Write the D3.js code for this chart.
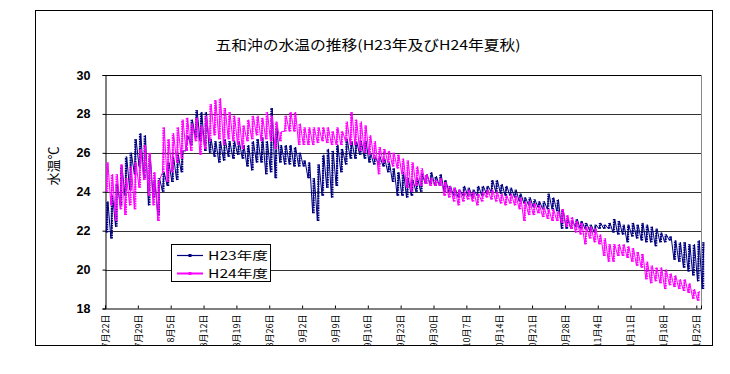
<!DOCTYPE html>
<html>
<head>
<meta charset="utf-8">
<script src="https://cdn.jsdelivr.net/npm/d3@7"></script>
<style>
  html, body { margin: 0; padding: 0; background: #fff; }
  svg { display: block; }
</style>
</head>
<body>
<svg id="chart" width="730" height="374"></svg>
<script>
// Season start (day 0 = 7月22日); one entry per day
const startDate = "2012-07-22";

// H23 daily low / high water temperature (°C)
const h23Low = [
  21.9, 21.6, 22.2, 23.3, 23.8, 24.1, 24.9, 25.3, 24.7, 23.3,
  23.7, 22.8, 24.0, 24.3, 24.5, 24.6, 25.0, 26.1, 26.4, 26.8,
  26.6, 26.1, 26.0, 25.8, 25.5, 25.6, 25.8, 25.7, 25.9, 25.7,
  25.3, 25.1, 25.5, 25.5, 24.9, 25.0, 24.7, 25.5, 25.4, 25.4,
  25.3, 25.3, 25.3, 24.7, 22.9, 22.5, 23.8, 24.2, 23.7, 24.3,
  25.0, 25.4, 25.7, 25.7, 25.9, 25.7, 25.5, 25.4, 25.4, 25.3,
  25.0, 24.5, 23.8, 23.8, 23.7, 23.8, 24.0, 24.0, 24.4, 24.4,
  24.3, 24.3, 24.0, 24.0, 23.8, 23.7, 23.8, 23.8, 23.7, 23.8,
  23.8, 23.9, 24.0, 24.0, 23.9, 23.8, 23.8, 23.7, 23.5, 23.4,
  23.3, 23.2, 23.2, 23.1, 23.1, 23.1, 23.0, 22.1, 22.1, 22.1,
  22.2, 22.1, 22.1, 22.0, 21.9, 22.1, 22.1, 22.1, 21.9, 21.8,
  21.8, 21.4, 21.7, 21.6, 21.5, 21.4, 21.4, 21.2, 21.4, 21.4,
  21.5, 20.5, 20.4, 20.1, 19.9, 19.7, 19.4, 19.0
];
const h23High = [
  23.5, 23.8, 24.4, 25.3, 25.8, 26.0, 26.7, 27.0, 26.9, 25.9,
  24.6, 24.7, 25.0, 25.5, 25.8, 25.9, 26.1, 26.9, 27.7, 28.2,
  28.1, 28.1, 26.7, 26.6, 26.6, 26.7, 26.6, 26.6, 26.6, 26.4,
  26.4, 26.6, 26.7, 26.8, 26.6, 28.3, 27.3, 26.4, 26.4, 26.4,
  26.3, 26.0, 25.6, 25.5, 24.7, 25.4, 25.9, 26.2, 26.1, 26.4,
  26.2, 26.7, 26.6, 26.6, 26.6, 26.6, 26.0, 25.8, 25.8, 25.7,
  25.5, 25.2, 25.0, 25.0, 24.7, 24.6, 24.7, 24.9, 24.9, 25.0,
  24.8, 24.9, 24.6, 24.3, 24.2, 24.1, 24.3, 24.2, 24.1, 24.3,
  24.3, 24.3, 24.6, 24.6, 24.4, 24.3, 24.2, 24.1, 23.9, 23.7,
  23.7, 23.6, 23.5, 23.5, 23.9, 23.7, 23.6, 23.1, 22.6, 22.5,
  22.6, 22.5, 22.4, 22.3, 22.3, 22.4, 22.3, 22.4, 22.6, 22.5,
  22.3, 22.3, 22.4, 22.3, 22.4, 22.3, 22.2, 22.1, 21.9, 21.8,
  21.7, 21.5, 21.4, 21.4, 21.3, 21.3, 21.5, 21.4
];

// H24 daily low / high water temperature (°C)
const h24Low = [
  24.0, 23.3, 22.5, 23.1, 22.8, 23.3, 23.1, 24.2, 24.6, 23.8,
  23.3, 22.5, 25.0, 24.5, 25.0, 25.5, 25.7, 26.1, 26.1, 26.6,
  25.9, 26.2, 26.6, 26.9, 26.7, 26.4, 26.7, 26.6, 26.4, 26.2,
  26.6, 26.7, 26.9, 26.6, 26.7, 26.6, 26.2, 26.6, 27.1, 27.1,
  27.1, 26.4, 26.4, 26.4, 26.4, 26.5, 26.6, 26.5, 26.4, 26.4,
  26.4, 26.6, 26.4, 26.4, 26.1, 26.0, 25.9, 25.7, 24.9, 25.5,
  25.5, 25.3, 25.2, 24.9, 24.2, 24.0, 24.3, 24.3, 24.4, 24.3,
  24.3, 24.3, 23.8, 23.7, 23.5, 23.3, 23.5, 23.6, 23.5, 23.3,
  23.5, 23.7, 23.6, 23.5, 23.4, 23.3, 23.4, 23.3, 23.1, 22.5,
  22.8, 22.8, 22.9, 22.7, 22.6, 22.5, 22.5, 22.4, 22.2, 22.1,
  21.9, 21.8, 21.3, 21.6, 21.4, 21.3, 20.7, 20.4, 20.4, 20.7,
  20.7, 20.6, 20.4, 20.2, 20.1, 19.5, 19.3, 19.4, 19.3, 19.0,
  19.2, 19.1, 19.0, 18.9, 18.8, 18.5, 18.4
];
const h24High = [
  25.5, 24.9, 24.9, 25.4, 24.7, 25.3, 25.5, 26.2, 26.4, 26.0,
  25.0, 24.6, 27.3, 26.7, 27.0, 27.3, 27.7, 27.8, 27.5, 27.8,
  27.4, 27.9, 28.5, 28.7, 28.8, 28.3, 28.1, 27.9, 27.8, 27.4,
  27.7, 27.9, 27.9, 27.8, 28.1, 27.9, 27.6, 27.1, 27.9, 28.1,
  28.1, 27.5, 27.3, 27.3, 27.3, 27.3, 27.3, 27.3, 27.1, 27.3,
  27.1, 27.6, 28.1, 27.7, 27.6, 27.4, 26.9, 26.6, 26.3, 26.2,
  26.1, 26.0, 25.9, 25.7, 25.6, 25.5, 25.3, 25.2, 24.9, 24.7,
  24.6, 24.7, 24.5, 24.3, 24.2, 24.1, 24.0, 24.1, 24.0, 23.9,
  24.0, 24.1, 24.1, 24.0, 23.9, 23.8, 23.9, 23.8, 23.7, 23.5,
  23.5, 23.4, 23.3, 23.2, 23.1, 23.1, 23.0, 23.1, 22.8, 22.7,
  22.5, 22.4, 22.2, 22.2, 22.1, 21.8, 21.6, 21.3, 21.3, 21.3,
  21.3, 21.2, 21.1, 20.9, 20.8, 20.4, 20.2, 20.1, 20.1, 20.0,
  19.8, 19.7, 19.5, 19.5, 19.3, 19.0, 18.9
];

// Axis labels
const xTickLabels = [
  "7月22日", "7月29日", "8月5日", "8月12日", "8月19日", "8月26日",
  "9月2日", "9月9日", "9月16日", "9月23日", "9月30日", "10月7日",
  "10月14日", "10月21日", "10月28日", "11月4日", "11月11日", "11月18日", "11月25日"
];
const yTicks = [18, 20, 22, 24, 26, 28, 30];
const seriesNames = ["H23年度", "H24年度"];
const titleText = "五和沖の水温の推移(H23年及びH24年夏秋)";
const yTitle = "水温℃";

// ---- layout ----
const svg = d3.select("#chart");
const plot = { left: 105, right: 701, top: 75, bottom: 308.5 };
const colors = { h23: "#000080", h24: "#ff00ff" };

const t0 = d3.timeParse("%Y-%m-%d")(startDate);
const x = d3.scaleTime()
  .domain([t0, d3.timeDay.offset(t0, 127)])
  .range([plot.left, plot.right]);
const y = d3.scaleLinear().domain([18, 30]).range([plot.bottom, plot.top]);

// Outer chart frame
svg.append("rect")
  .attr("x", 35.5).attr("y", 10.5).attr("width", 677).attr("height", 335)
  .attr("fill", "#fff").attr("stroke", "#000").attr("stroke-width", 1);

// Title
svg.append("text")
  .attr("x", 368).attr("y", 50)
  .attr("text-anchor", "middle")
  .attr("font-family", "'Noto Sans CJK JP', sans-serif")
  .attr("font-size", 13.5)
  .attr("textLength", 305).attr("lengthAdjust", "spacingAndGlyphs")
  .text(titleText);

// Horizontal gridlines
svg.append("g").selectAll("line")
  .data(yTicks.filter(v => v > 18))
  .join("line")
  .attr("x1", plot.left).attr("x2", plot.right)
  .attr("y1", d => Math.round(y(d)) + 0.5).attr("y2", d => Math.round(y(d)) + 0.5)
  .attr("stroke", d => d === 30 ? "#000" : "#333").attr("stroke-width", 1);

// Right border of plot
svg.append("line")
  .attr("x1", plot.right + 0.5).attr("x2", plot.right + 0.5)
  .attr("y1", y(30)).attr("y2", plot.bottom)
  .attr("stroke", "#888");

// Y axis
const yAxis = svg.append("g")
  .attr("transform", `translate(${plot.left + 0.5},0)`)
  .call(d3.axisLeft(y).tickValues(yTicks).tickSize(3).tickPadding(12));
yAxis.select(".domain").attr("stroke", "#000");
yAxis.selectAll("text")
  .attr("font-family", "'Liberation Sans', Arial, sans-serif")
  .attr("font-size", 12.5).attr("font-weight", "bold").attr("fill", "#000");

// Y axis title
svg.append("text")
  .attr("transform", "translate(58,166) rotate(-90)")
  .attr("text-anchor", "middle")
  .attr("font-family", "'Noto Sans CJK JP', sans-serif")
  .attr("font-size", 13)
  .text(yTitle);

// X axis with weekly ticks; labels are cut off at the frame's bottom edge
const tickDates = xTickLabels.map((_, i) => d3.timeDay.offset(t0, i * 7));
svg.append("clipPath").attr("id", "frameClip")
  .append("rect").attr("x", -10).attr("y", -400).attr("width", 760)
  .attr("height", 345 - plot.bottom + 400);
const xAxis = svg.append("g")
  .attr("transform", `translate(0,${plot.bottom})`)
  .attr("clip-path", "url(#frameClip)")
  .call(d3.axisBottom(x).tickValues(tickDates).tickSize(-3)
    .tickFormat((d, i) => xTickLabels[i]));
xAxis.select(".domain").attr("stroke", "#000");
xAxis.selectAll(".tick line").attr("stroke", "#000");
xAxis.selectAll("text")
  .attr("transform", "rotate(-90)")
  .attr("text-anchor", "end")
  .attr("x", -6).attr("y", 0).attr("dy", "0.35em")
  .attr("font-family", "'Noto Sans CJK JP', sans-serif")
  .attr("font-size", 9).attr("fill", "#000");

// ---- series ----
function drawSeries(lows, highs, color) {
  const g = svg.append("g");
  const at = (i, h) => d3.timeHour.offset(d3.timeDay.offset(t0, i), h);
  const pts = [];
  lows.forEach((lo, i) => {
    pts.push([at(i, 6), lo]);
    pts.push([at(i, 15), highs[i]]);
  });
  const line = d3.line().x(d => x(d[0])).y(d => y(d[1]));
  g.append("path").datum(pts)
    .attr("d", line).attr("fill", "none")
    .attr("stroke", color).attr("stroke-width", 1);
  // Daily range band drawn as a column of small hourly markers
  g.selectAll("line.band")
    .data(lows.map((lo, i) => ({ i, lo, hi: highs[i] })))
    .join("line")
    .attr("class", "band")
    .attr("x1", d => x(at(d.i, 11)))
    .attr("x2", d => x(at(d.i, 11)))
    .attr("y1", d => y(d.lo)).attr("y2", d => y(d.hi))
    .attr("stroke", color).attr("stroke-width", 2.2)
    .attr("stroke-dasharray", "1.6,0.8");
}
drawSeries(h23Low, h23High, colors.h23);
drawSeries(h24Low, h24High, colors.h24);

// ---- legend ----
const legend = svg.append("g");
legend.append("rect")
  .attr("x", 171.5).attr("y", 244.5).attr("width", 99).attr("height", 37)
  .attr("fill", "#fff").attr("stroke", "#000");
[[seriesNames[0], colors.h23, 255.5], [seriesNames[1], colors.h24, 273.5]].forEach(([name, c, ly]) => {
  legend.append("line").attr("x1", 177).attr("x2", 203).attr("y1", ly).attr("y2", ly)
    .attr("stroke", c).attr("stroke-width", c === colors.h24 ? 2 : 1.2);
  legend.append("rect").attr("x", 188.5).attr("y", ly - 1.5).attr("width", 3).attr("height", 3)
    .attr("fill", c);
  legend.append("text").attr("x", 208).attr("y", ly + 4)
    .attr("font-family", "'Noto Sans CJK JP', sans-serif")
    .attr("font-size", 11.5).attr("textLength", 60).attr("lengthAdjust", "spacingAndGlyphs")
    .text(name);
});
</script>
</body>
</html>
